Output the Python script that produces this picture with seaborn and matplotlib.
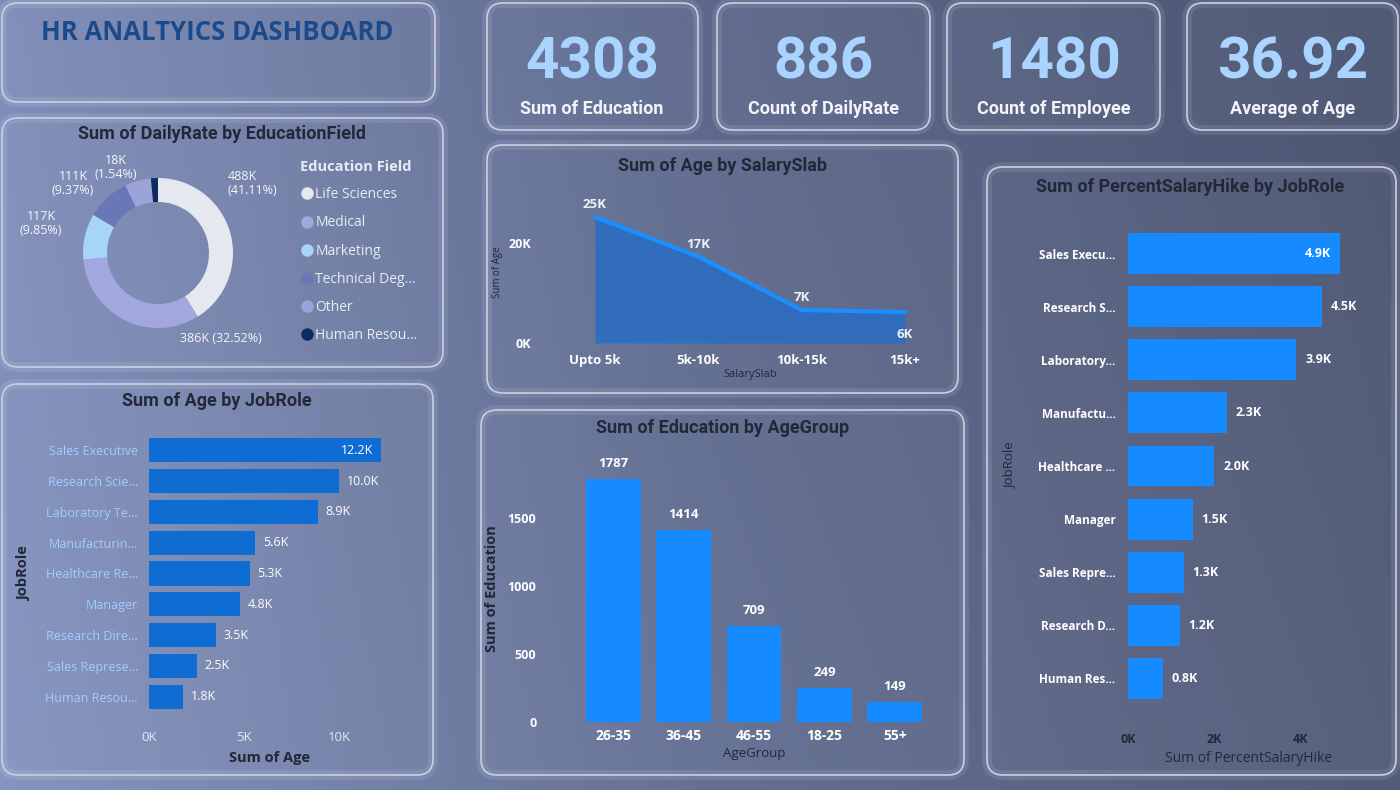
import numpy as np
import pandas as pd
import matplotlib
matplotlib.use("Agg")
from matplotlib import pyplot as plt
from matplotlib.patches import FancyBboxPatch
from matplotlib.lines import Line2D
import seaborn as sns

sns.set_theme(style="white")
plt.rcParams['font.family'] = ['Open Sans', 'DejaVu Sans']

# ---- Data ----
kpi_values = ["4308", "886", "1480", "36.92"]
kpi_labels = ["Sum of Education", "Count of DailyRate", "Count of Employee", "Average of Age"]

edu_fields = ["Life Sciences", "Medical", "Marketing", "Technical Deg...", "Other", "Human Resou..."]
edu_dailyrate_k = [488, 386, 117, 111, 67, 18]
edu_pct = [41.11, 32.52, 9.85, 9.37, 5.61, 1.54]

salary_slabs = ["Upto 5k", "5k-10k", "10k-15k", "15k+"]
salary_age_k = [25.2, 17.3, 6.6, 6.2]

age_roles = ["Sales Executive", "Research Scie...", "Laboratory Te...", "Manufacturin...",
             "Healthcare Re...", "Manager", "Research Dire...", "Sales Represe...", "Human Resou..."]
age_by_role_k = [12.2, 10.0, 8.9, 5.6, 5.3, 4.8, 3.5, 2.5, 1.8]

age_groups = ["26-35", "36-45", "46-55", "18-25", "55+"]
edu_by_group = [1787, 1414, 709, 249, 149]

hike_roles = ["Sales Execu...", "Research S...", "Laboratory...", "Manufactu...",
              "Healthcare ...", "Manager", "Sales Repre...", "Research D...", "Human Res..."]
hike_by_role_k = [4.9, 4.5, 3.9, 2.3, 2.0, 1.5, 1.3, 1.2, 0.8]

# ---- Layout helpers (pixel space, origin top-left) ----
W, H = 1400, 790
TITLE_C = '#232838'
BAR_DARK = '#0f6cd2'
BAR_LIGHT = '#168bff'
KPI_C = '#a9d4ff'
DIN = ['Roboto', 'DejaVu Sans']


def rect(x0, y0, x1, y1):
    return [x0 / W, 1 - y1 / H, (x1 - x0) / W, (y1 - y0) / H]


fig = plt.figure(figsize=(14, 7.9), dpi=100)

# background gradient
bg = fig.add_axes([0, 0, 1, 1])
left = np.array([0x7e, 0x8d, 0xb8]) / 255
mid = np.array([0x5d, 0x69, 0x8c]) / 255
right = np.array([0x4b, 0x54, 0x70]) / 255
xs = np.linspace(0, 1, 300)
row = np.array([left + (mid - left) * (t / 0.5) if t < 0.5 else mid + (right - mid) * ((t - 0.5) / 0.5) for t in xs])
vert = np.linspace(0.0, 0.03, 100)[:, None, None]
img = np.clip(row[None, :, :] + vert, 0, 1)
bg.imshow(img, extent=[0, W, H, 0], aspect='auto', zorder=0)
bg.set_xlim(0, W)
bg.set_ylim(H, 0)
bg.axis('off')

panels = [(2, 3, 435, 102), (487, 3, 698, 130), (717, 3, 930, 130), (947, 3, 1160, 130),
          (1187, 3, 1398, 130), (2, 118, 443, 367), (487, 145, 958, 393),
          (2, 384, 433, 775), (481, 410, 964, 775), (987, 167, 1396, 775)]
for x0, y0, x1, y1 in panels:
    glow = FancyBboxPatch((x0, y0), x1 - x0, y1 - y0, boxstyle="round,pad=0,rounding_size=16",
                          facecolor='none', edgecolor='white', lw=7, alpha=0.10, zorder=1)
    bg.add_patch(glow)
    box = FancyBboxPatch((x0, y0), x1 - x0, y1 - y0, boxstyle="round,pad=0,rounding_size=16",
                         facecolor=(1, 1, 1, 0.03), edgecolor='#c9d0e6', lw=1.2, zorder=2)
    bg.add_patch(box)

# dashboard title
bg.text(217, 33, "HR ANALTYICS DASHBOARD", ha='center', va='center', fontsize=18.5,
        fontweight='bold', color='#1b4a8c', zorder=3)

# KPI cards
kpi_centers = [592, 823, 1054, 1293]
for cx, val, lab in zip(kpi_centers, kpi_values, kpi_labels):
    bg.text(cx, 63, val, ha='center', va='center', fontsize=42, fontweight='bold', color=KPI_C,
            family=DIN, zorder=3)
    bg.text(cx, 109, lab, ha='center', va='center', fontsize=13, fontweight='bold',
            color='#f2f4fa', family=DIN, zorder=3)

# chart titles
chart_titles = [(222, 134, "Sum of DailyRate by EducationField"),
                (723, 166, "Sum of Age by SalarySlab"),
                (217, 401, "Sum of Age by JobRole"),
                (723, 428, "Sum of Education by AgeGroup"),
                (1190, 187, "Sum of PercentSalaryHike by JobRole")]
for cx, cy, t in chart_titles:
    bg.text(cx, cy, t, ha='center', va='center', fontsize=13, fontweight='bold',
            color=TITLE_C, family=DIN, zorder=3)

# ---- Donut: Sum of DailyRate by EducationField ----
donut_colors = ['#e6e8ef', '#a2a7dd', '#a7d5f7', '#6977b9', '#9ca3d9', '#0e2b5f']
axd = fig.add_axes(rect(83, 178, 233, 328))
axd.pie(edu_dailyrate_k, colors=donut_colors, startangle=90, counterclock=False, radius=1,
        wedgeprops=dict(width=0.32, edgecolor='none'))
axd.set_xlim(-1, 1)
axd.set_ylim(-1, 1)
axd.set_aspect('equal')
axd.axis('off')

# data labels (pixel anchors of Power BI labels)
donut_label_pos = {0: (228, 183, 'left'), 1: (221, 339, 'center'), 2: (41, 223, 'center'),
                   3: (73, 183, 'center'), 5: (116, 168, 'center')}
for i, (lx, ly, ha) in donut_label_pos.items():
    if i == 1:
        txt = f"{edu_dailyrate_k[i]}K ({edu_pct[i]:.2f}%)"
    else:
        txt = f"{edu_dailyrate_k[i]}K\n({edu_pct[i]:.2f}%)"
    bg.text(lx, ly, txt, ha=ha, va='center', fontsize=9, color='#f4f5fa', linespacing=1.1, zorder=3)

handles = [Line2D([0], [0], marker='o', color='none', markerfacecolor=c, markeredgecolor='none',
                  markersize=9) for c in donut_colors]
leg = fig.legend(handles, edu_fields, title="Education Field", loc='upper left',
                 bbox_to_anchor=(300 / W, 1 - 160 / H), frameon=False, fontsize=10,
                 labelcolor='#e8ebf4', handletextpad=0.1, handlelength=1.0, labelspacing=0.95,
                 borderaxespad=0, borderpad=0, alignment='left')
leg.get_title().set_color('#e8ebf4')
leg.get_title().set_fontweight('bold')
leg.get_title().set_fontsize(10.5)

# ---- Area: Sum of Age by SalarySlab ----
axa = fig.add_axes(rect(570, 195, 930, 350))
xpos = np.arange(len(salary_slabs))
axa.fill_between(xpos, salary_age_k, color='#2c6cc2', alpha=0.9, lw=0)
sns.lineplot(x=xpos, y=salary_age_k, color='#1a8fff', lw=3, ax=axa)
axa.set_xlim(-0.242, 3.242)
axa.set_ylim(-1.4, 29.6)
axa.set_xticks(xpos)
axa.set_xticklabels(salary_slabs, color='white', fontweight='bold', fontsize=9.5)
axa.set_yticks([0, 20])
axa.set_yticklabels(["0K", "20K"], color='white', fontweight='bold', fontsize=9)
axa.tick_params(axis='y', pad=28, length=0)
axa.tick_params(axis='x', pad=3, length=0)
axa.set_xlabel("SalarySlab", color=TITLE_C, fontsize=8, labelpad=1)
axa.set_ylabel("Sum of Age", color=TITLE_C, fontsize=7, labelpad=4)
for i, v in enumerate(salary_age_k):
    off = -16 if i == len(salary_age_k) - 1 else 9
    axa.annotate(f"{v:.0f}K", (i, v), xytext=(0, off), textcoords='offset points', ha='center',
                 va='center', color='#eef1f8', fontweight='bold', fontsize=9.5)
axa.set_facecolor('none')
sns.despine(ax=axa, left=True, bottom=True)

# ---- Bar: Sum of Age by JobRole ----
axb = fig.add_axes(rect(149, 435, 391, 712))
sns.barplot(x=age_by_role_k, y=age_roles, orient='h', color=BAR_DARK, width=0.78,
            saturation=1, linewidth=0, edgecolor='none', ax=axb)
axb.set_xlim(0, 242 / 19)
axb.set_xticks([0, 5, 10])
axb.set_xticklabels(["0K", "5K", "10K"], color='#e3e7f5', fontsize=9.5)
axb.tick_params(axis='x', pad=14, length=0)
axb.tick_params(axis='y', pad=8, length=0)
for lab in axb.get_yticklabels():
    lab.set_color('#a4cdff')
    lab.set_fontsize(9)
axb.set_xlabel("Sum of Age", color=TITLE_C, fontweight='bold', fontsize=10.5, labelpad=5)
axb.set_ylabel("JobRole", color=TITLE_C, fontweight='bold', fontsize=10.5, labelpad=10)
vmax = max(age_by_role_k)
for i, v in enumerate(age_by_role_k):
    if v > 0.95 * vmax:
        axb.text(v - 0.4, i, f"{v:.1f}K", ha='right', va='center', color='white', fontsize=9)
    else:
        axb.text(v + 0.4, i, f"{v:.1f}K", ha='left', va='center', color='white', fontsize=9)
axb.set_facecolor('none')
sns.despine(ax=axb, left=True, bottom=True)

# ---- Column: Sum of Education by AgeGroup ----
axc = fig.add_axes(rect(578, 455, 930, 722))
sns.barplot(x=age_groups, y=edu_by_group, color=BAR_LIGHT, width=0.78, saturation=1,
            linewidth=0, edgecolor='none', ax=axc)
axc.set_ylim(0, 267 / 0.136)
axc.set_yticks([0, 500, 1000, 1500])
axc.set_yticklabels(["0", "500", "1000", "1500"], color='white', fontweight='bold', fontsize=9)
axc.tick_params(axis='y', pad=30, length=0)
axc.tick_params(axis='x', pad=5, length=0)
for lab in axc.get_xticklabels():
    lab.set_color('white')
    lab.set_fontweight('bold')
    lab.set_fontsize(10)
axc.set_xlabel("AgeGroup", color=TITLE_C, fontsize=9.5, labelpad=3)
axc.set_ylabel("Sum of Education", color=TITLE_C, fontweight='bold', fontsize=10.5, labelpad=6)
for i, v in enumerate(edu_by_group):
    axc.annotate(f"{v}", (i, v), xytext=(0, 11), textcoords='offset points', ha='center',
                 va='center', color='white', fontweight='bold', fontsize=9.5)
axc.set_facecolor('none')
sns.despine(ax=axc, left=True, bottom=True)

# ---- Bar: Sum of PercentSalaryHike by JobRole ----
axh = fig.add_axes(rect(1128, 227, 1370, 705))
sns.barplot(x=hike_by_role_k, y=hike_roles, orient='h', color=BAR_LIGHT, width=0.77,
            saturation=1, linewidth=0, edgecolor='none', ax=axh)
axh.set_xlim(0, 242 / 43.2)
axh.set_xticks([0, 2, 4])
axh.set_xticklabels(["0K", "2K", "4K"], color=TITLE_C, fontweight='bold', fontsize=9)
axh.tick_params(axis='x', pad=20, length=0)
axh.tick_params(axis='y', pad=9, length=0)
for lab in axh.get_yticklabels():
    lab.set_color('white')
    lab.set_fontweight('bold')
    lab.set_fontsize(8.5)
axh.set_xlabel("Sum of PercentSalaryHike", color=TITLE_C, fontsize=10, labelpad=4)
axh.set_ylabel("JobRole", color=TITLE_C, fontsize=9.5, labelpad=16)
hmax = max(hike_by_role_k)
for i, v in enumerate(hike_by_role_k):
    if v > 0.95 * hmax:
        axh.text(v - 0.2, i, f"{v:.1f}K", ha='right', va='center', color='white',
                 fontweight='bold', fontsize=9)
    else:
        axh.text(v + 0.2, i, f"{v:.1f}K", ha='left', va='center', color='white',
                 fontweight='bold', fontsize=9)
axh.set_facecolor('none')
sns.despine(ax=axh, left=True, bottom=True)

plt.savefig('out.png', dpi=100)
